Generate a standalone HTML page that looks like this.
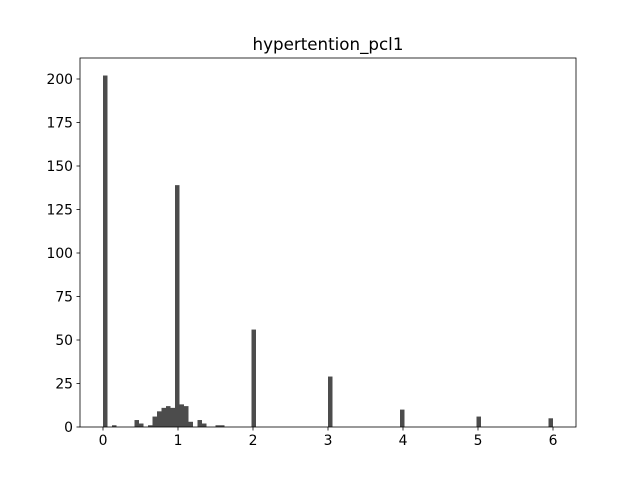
<!DOCTYPE html>
<html><head><meta charset="utf-8"><style>
body{margin:0;background:#fff;}
svg text{font-family:"DejaVu Sans","Liberation Sans",sans-serif;fill:#000;}
</style></head><body>
<svg id="chart" width="640" height="480" viewBox="0 0 640 480" xmlns="http://www.w3.org/2000/svg">
<rect width="640" height="480" fill="#fff"/>
<g id="bars"></g>
<g id="axes"></g>
<text x="328" y="50" font-size="16.7" text-anchor="middle">hypertention_pcl1</text>
</svg>
<script>
const binIndex = [0, 2, 7, 8, 10, 11, 12, 13, 14, 15, 16, 17, 18, 19, 21, 22, 25, 26, 33, 50, 66, 83, 99];
const binCounts = [202, 1, 4, 2, 1, 6, 9, 11, 12, 11, 139, 13, 12, 3, 4, 2, 1, 1, 56, 29, 10, 6, 5];
const xTicks = [0, 1, 2, 3, 4, 5, 6];
const yTicks = [0, 25, 50, 75, 100, 125, 150, 175, 200];
const nBins = 100, binMin = 0, binMax = 6;

const L = 80, R = 576, T = 58, B = 427;
const xs = v => 103 + (v - 0) * 75;
const ys = v => 427 - v * (348 / 200);
const NS = 'http://www.w3.org/2000/svg';
const barsG = document.getElementById('bars');
const axG = document.getElementById('axes');
const bw = (binMax - binMin) / nBins;

binIndex.forEach((b, i) => {
  const r = document.createElementNS(NS, 'rect');
  const x0 = xs(binMin + b * bw), x1 = xs(binMin + (b + 1) * bw);
  r.setAttribute('x', x0);
  r.setAttribute('width', x1 - x0);
  r.setAttribute('y', ys(binCounts[i]));
  r.setAttribute('height', ys(0) - ys(binCounts[i]));
  r.setAttribute('fill', '#4c4c4c');
  
  
  barsG.appendChild(r);
});

const frame = document.createElementNS(NS, 'rect');
frame.setAttribute('x', L); frame.setAttribute('y', T);
frame.setAttribute('width', R - L); frame.setAttribute('height', B - T);
frame.setAttribute('fill', 'none'); frame.setAttribute('stroke', '#000'); frame.setAttribute('stroke-width', '0.8');


axG.appendChild(frame);

xTicks.forEach(t => {
  const l = document.createElementNS(NS, 'line');
  l.setAttribute('x1', xs(t)); l.setAttribute('x2', xs(t));
  l.setAttribute('y1', B); l.setAttribute('y2', B + 3.5);
  l.setAttribute('stroke', '#000'); l.setAttribute('stroke-width', '0.8');
  
  
  axG.appendChild(l);
  const tx = document.createElementNS(NS, 'text');
  tx.setAttribute('x', xs(t)); tx.setAttribute('y', B + 18);
  tx.setAttribute('font-size', '13.9'); tx.setAttribute('text-anchor', 'middle');
  tx.textContent = t;
  
  
  axG.appendChild(tx);
});
yTicks.forEach(t => {
  const l = document.createElementNS(NS, 'line');
  l.setAttribute('x1', L - 3.5); l.setAttribute('x2', L);
  l.setAttribute('y1', ys(t)); l.setAttribute('y2', ys(t));
  l.setAttribute('stroke', '#000'); l.setAttribute('stroke-width', '0.8');
  
  
  axG.appendChild(l);
  const tx = document.createElementNS(NS, 'text');
  tx.setAttribute('x', L - 7); tx.setAttribute('y', ys(t) + 5);
  tx.setAttribute('font-size', '13.9'); tx.setAttribute('text-anchor', 'end');
  tx.textContent = t;
  
  
  axG.appendChild(tx);
});
</script>
</body></html>
